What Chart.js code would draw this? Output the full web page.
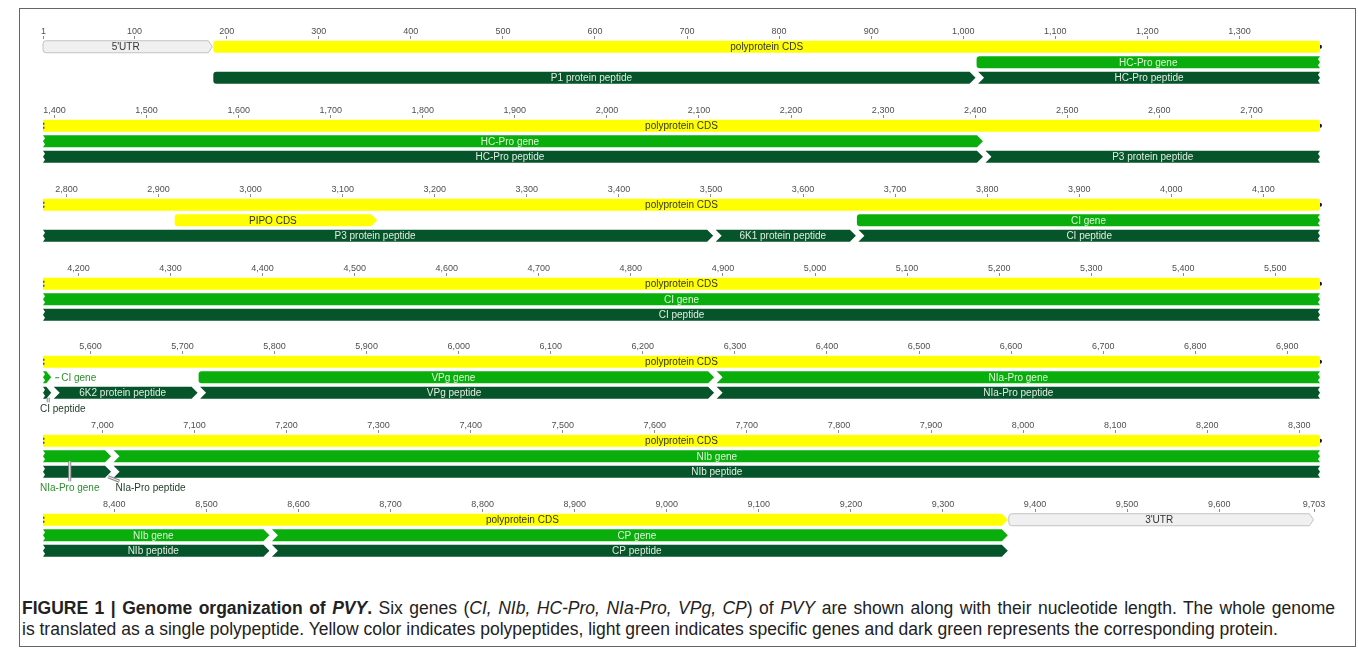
<!DOCTYPE html>
<html>
<head>
<meta charset="utf-8">
<title>PVY genome organization</title>
<script src="https://cdn.jsdelivr.net/npm/chart.js@4.4.1/dist/chart.umd.min.js"></script>
<style>
  body { margin: 0; background: #fff; }
  #page { position: relative; width: 1358px; height: 648px; overflow: hidden; font-family: "Liberation Sans", Arial, sans-serif; }
  #frame { position: absolute; left: 19px; top: 8px; width: 1337px; height: 639px; border: 1px solid #666; box-sizing: border-box; }
  canvas.row { position: absolute; left: 0; display: block; }
  #caption { position: absolute; left: 22px; top: 598px; width: 1313px; font-size: 17.5px; line-height: 21px; color: #222; }
  #caption .l1 { text-align: justify; text-align-last: justify; }
</style>
</head>
<body>
<div id="page">
  <div id="frame"></div>
  <div id="rows"></div>
  <div id="caption">
    <div class="l1"><b>FIGURE 1 | Genome organization of <i>PVY</i>.</b> Six genes (<i>CI, NIb, HC-Pro, NIa-Pro, VPg, CP</i>) of <i>PVY</i> are shown along with their nucleotide length. The whole genome</div>
    <div>is translated as a single polypeptide. Yellow color indicates polypeptides, light green indicates specific genes and dark green represents the corresponding protein.</div>
  </div>
</div>
<script>
// ---- data: PVY genome, wrapped like the Geneious sequence view ----
const genomeLength = 9703;
const basesPerRow = 1387;
const rowStarts = [1, 1388, 2775, 4162, 5549, 6936, 8323];
const tickStep = 100;

const tracks = ['CDS', 'gene', 'peptide'];

const featNames  = ["5'UTR", 'polyprotein CDS', "3'UTR", 'PIPO CDS',
                    'HC-Pro gene', 'CI gene', 'VPg gene', 'NIa-Pro gene', 'NIb gene', 'CP gene',
                    'P1 protein peptide', 'HC-Pro peptide', 'P3 protein peptide', '6K1 protein peptide',
                    'CI peptide', '6K2 protein peptide', 'VPg peptide', 'NIa-Pro peptide', 'NIb peptide', 'CP peptide'];
const featStarts = [1, 186, 9372, 2918,
                    1015, 3659, 5718, 6279, 7011, 8570,
                    186, 1015, 2410, 3504,
                    3659, 5559, 5718, 6279, 7011, 8570];
const featEnds   = [185, 9371, 9703, 3138,
                    2409, 5558, 6278, 7010, 8569, 9371,
                    1014, 2409, 3503, 3658,
                    5558, 5717, 6278, 7010, 8569, 9371];
const featTracks = [0, 0, 0, 1,
                    1, 1, 1, 1, 1, 1,
                    2, 2, 2, 2,
                    2, 2, 2, 2, 2, 2];
const featKinds  = ['utr', 'cds', 'utr', 'cds',
                    'gene', 'gene', 'gene', 'gene', 'gene', 'gene',
                    'pep', 'pep', 'pep', 'pep',
                    'pep', 'pep', 'pep', 'pep', 'pep', 'pep'];

// ---- layout ----
const rowTops = [26.75, 106.25, 184.75, 264.25, 341.75, 421.25, 499.75];
const rowHeight = 80;
const axisHeight = 12;
const trackArea = 46.5;
const fontFam = '"Liberation Sans", Arial, sans-serif';

const fillColor = { cds: '#ffff00', gene: '#0aae0c', pep: '#06552a', utr: '#f0f0f0' };
const textColor = { cds: '#333333', gene: '#dff3da', pep: '#e2ece2', utr: '#333333' };
const outColor  = { gene: '#2c8f2c', pep: '#1d3a26', cds: '#555', utr: '#555' };

function rowEnd(r) { return Math.min(rowStarts[r] + basesPerRow - 1, genomeLength); }

function rowFeatures(r) {
  const lo = rowStarts[r], hi = rowEnd(r);
  const out = [];
  featNames.forEach((name, i) => {
    const s = featStarts[i], e = featEnds[i];
    if (e < lo || s > hi) return;
    // a feature that directly follows another one on its track starts with a notch
    const follows = featNames.some((n, j) => j !== i && featTracks[j] === featTracks[i] &&
                      featEnds[j] === s - 1 && featKinds[j] !== 'utr' && featKinds[i] !== 'utr' && s > lo);
    out.push({ x: [Math.max(s, lo) - 0.5, Math.min(e, hi) + 0.5], y: tracks[featTracks[i]],
               name: name, kind: featKinds[i], track: featTracks[i],
               contL: s < lo, contR: e > hi, notch: follows });
  });
  return out;
}

function rowTicks(r) {
  const lo = rowStarts[r], hi = rowEnd(r);
  const t = [];
  if (lo === 1) t.push(1);
  for (let v = Math.ceil(lo / tickStep) * tickStep; v <= hi; v += tickStep) {
    if (genomeLength - v >= 50) t.push(v);
  }
  if (hi === genomeLength) t.push(genomeLength);
  return t;
}

// outline of one feature (rounded start, arrow end, torn edges where it runs on)
function featurePath(ctx, f, x0, x1, yc, h) {
  const top = yc - h / 2, bot = yc + h / 2, r = 3;
  const torn = f.kind === 'gene' || f.kind === 'pep';
  let tip = 0;
  if (!f.contR) tip = Math.min(f.kind === 'utr' ? 4 : h / 2, (x1 - x0) * 0.6);
  ctx.beginPath();
  if (f.contL || f.notch) ctx.moveTo(x0, top); else ctx.moveTo(x0 + r, top);
  // right side
  if (!f.contR) {
    ctx.lineTo(x1 - tip, top); ctx.lineTo(x1, yc); ctx.lineTo(x1 - tip, bot);
  } else if (torn) {
    ctx.lineTo(x1, top); ctx.lineTo(x1 - 2, yc - h / 4); ctx.lineTo(x1, yc);
    ctx.lineTo(x1 - 2, yc + h / 4); ctx.lineTo(x1, bot);
  } else {
    ctx.lineTo(x1 - r, top); ctx.quadraticCurveTo(x1, top, x1, top + r);
    ctx.lineTo(x1, bot - r); ctx.quadraticCurveTo(x1, bot, x1 - r, bot);
  }
  // left side
  if (f.notch) {
    ctx.lineTo(x0, bot); ctx.lineTo(x0 + h / 2, yc);
  } else if (f.contL && torn) {
    ctx.lineTo(x0, bot); ctx.lineTo(x0 + 2, yc + h / 4); ctx.lineTo(x0, yc); ctx.lineTo(x0 + 2, yc - h / 4);
  } else if (f.contL) {
    ctx.lineTo(x0, bot);
  } else {
    ctx.lineTo(x0 + r, bot); ctx.quadraticCurveTo(x0, bot, x0, bot - r);
    ctx.lineTo(x0, top + r); ctx.quadraticCurveTo(x0, top, x0 + r, top);
  }
  ctx.closePath();
  return tip;
}

function leader(ctx, xa, ya, xb, yb) {
  ctx.beginPath(); ctx.moveTo(xa, ya); ctx.lineTo(xb, yb);
  ctx.strokeStyle = '#8a8a8a'; ctx.lineWidth = 3; ctx.stroke();
  ctx.strokeStyle = '#f2f2f2'; ctx.lineWidth = 1; ctx.stroke();
}

const featurePainter = {
  id: 'featurePainter',
  beforeDatasetDraw() { return false; },
  afterDatasetsDraw(chart) {
    const ctx = chart.ctx;
    const feats = chart.data.datasets[0].data;
    const bars = chart.getDatasetMeta(0).data;
    const ys = chart.scales.y;
    const band = ys.getPixelForValue(1) - ys.getPixelForValue(0);
    const geo = bars.map(b => {
      const p = b.getProps(['x', 'y', 'base', 'height'], true);
      return { x0: Math.min(p.x, p.base), x1: Math.max(p.x, p.base), yc: p.y, h: p.height };
    });
    ctx.save();
    ctx.font = '10px ' + fontFam;
    ctx.textBaseline = 'middle';
    const outside = [];
    feats.forEach((f, i) => {
      let { x0, x1, yc, h } = geo[i];
      if (f.notch) x0 += 1.5;
      if (!f.contR) x1 -= 1;
      const tip = featurePath(ctx, f, x0, x1, yc, h);
      ctx.fillStyle = fillColor[f.kind];
      ctx.fill();
      if (f.kind === 'utr') { ctx.strokeStyle = '#c2c2c2'; ctx.lineWidth = 1; ctx.stroke(); }
      if (f.kind === 'cds' && f.contR) {
        ctx.beginPath(); ctx.arc(x1, yc, 2, -Math.PI / 2, Math.PI / 2); ctx.fillStyle = '#111'; ctx.fill();
      }
      if (f.kind === 'cds' && f.contL) {
        ctx.fillStyle = '#555';
        ctx.fillRect(x0, yc - 3, 1.5, 2); ctx.fillRect(x0, yc + 1, 1.5, 2);
      }
      const w = ctx.measureText(f.name).width;
      if (w + 16 <= x1 - x0) {
        ctx.fillStyle = textColor[f.kind];
        ctx.textAlign = 'center';
        ctx.fillText(f.name, (x0 + x1 - tip) / 2, yc + 0.5);
      } else {
        outside.push({ f, i, x0, x1, yc, h, w });
      }
    });
    // labels that do not fit go beside or below their feature
    outside.sort((a, b) => a.f.track - b.f.track || a.x0 - b.x0);
    const laneY = ys.getPixelForValue(2) + band;
    let laneRight = -Infinity;
    ctx.textAlign = 'left';
    outside.forEach(o => {
      const freeRight = o.f.track === 1 && !feats.some((g, j) => j !== o.i && g.track === o.f.track &&
                          geo[j].x0 > o.x1 && geo[j].x0 < o.x1 + o.w + 24);
      ctx.fillStyle = outColor[o.f.kind];
      if (freeRight) {
        ctx.fillRect(o.x1 + 4, o.yc, 4, 1);
        ctx.fillText(o.f.name, o.x1 + 10, o.yc + 0.5);
        return;
      }
      const left = Math.max(o.x0 - 3, laneRight + 16);
      const mid = left + o.w / 2;
      const lx = Math.min(Math.max(mid, o.x0 + 3), o.x1 - 3);
      const ex = Math.min(Math.max(lx, left + 4), left + o.w - 4);
      leader(ctx, lx, o.yc + o.h / 2 - 1, ex, laneY - 6);
      ctx.fillStyle = outColor[o.f.kind];
      ctx.fillText(o.f.name, left, laneY + 0.5);
      laneRight = left + o.w;
    });
    ctx.restore();
  }
};

rowStarts.forEach((lo, r) => {
  const cv = document.createElement('canvas');
  cv.className = 'row';
  cv.width = 1358; cv.height = rowHeight;
  cv.style.top = rowTops[r] + 'px';
  document.getElementById('rows').appendChild(cv);
  const ticks = rowTicks(r);
  new Chart(cv.getContext('2d'), {
    type: 'bar',
    data: {
      labels: tracks,
      datasets: [{ data: rowFeatures(r), barThickness: 12, grouped: false, backgroundColor: fillColor.cds }]
    },
    options: {
      indexAxis: 'y',
      responsive: false,
      animation: false,
      devicePixelRatio: 1,
      layout: { padding: { left: 43, right: 38, top: 0, bottom: rowHeight - axisHeight - trackArea } },
      scales: {
        x: {
          type: 'linear', position: 'top',
          min: lo - 0.5, max: lo + basesPerRow - 0.5,
          afterBuildTicks: s => { s.ticks = ticks.map(v => ({ value: v })); },
          afterFit: s => { s.height = axisHeight; s.paddingLeft = 0; s.paddingRight = 0; },
          ticks: { autoSkip: false, maxRotation: 0, minRotation: 0, padding: 0, color: '#505050',
                   font: { size: 9, family: fontFam, lineHeight: 1 },
                   callback: v => Number(v).toLocaleString('en-US') },
          grid: { drawOnChartArea: false, drawTicks: true, tickLength: 3, color: '#8a8a8a' },
          border: { display: false }
        },
        y: { type: 'category', display: false }
      },
      plugins: { legend: { display: false }, tooltip: { enabled: false } }
    },
    plugins: [featurePainter]
  });
});
</script>
</body>
</html>
